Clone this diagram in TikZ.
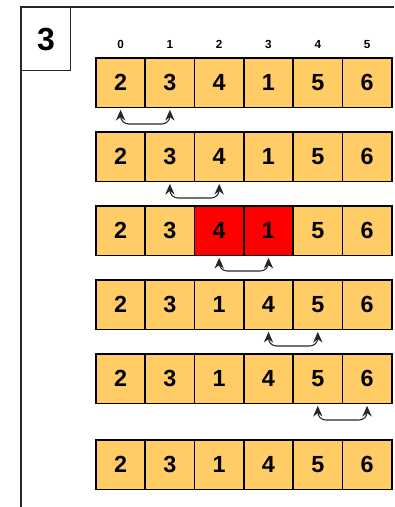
\documentclass[tikz,border=0pt]{standalone}
\usepackage{fontspec}
\setmainfont{Liberation Sans}
\usetikzlibrary{arrows.meta}
\definecolor{cellfill}{HTML}{FFCC66}
\definecolor{hotfill}{HTML}{FF0000}
\begin{document}
\begin{tikzpicture}[x=0.75pt,y=-0.75pt,
  cell/.style={draw=black,line width=1.4pt,fill=cellfill,minimum width=49.3*0.75pt,minimum height=49.5*0.75pt,inner sep=0pt,anchor=north west,font=\bfseries\fontsize{17.5pt}{20pt}\selectfont},
  hot/.style={cell,fill=hotfill},
  idx/.style={font=\bfseries\fontsize{8.8pt}{10pt}\selectfont,inner sep=0pt,anchor=base},
  swaparrow/.style={draw=black!85,line width=0.8pt,rounded corners=6pt,{Stealth[length=8pt,width=7pt]}-{Stealth[length=8pt,width=7pt]}}]
\useasboundingbox (0,0) rectangle (394,507);
% frame
\draw[line width=0.9pt,black!85] (21,507) -- (21,7) -- (394,7);
\node[draw=black!85,line width=0.9pt,minimum width=49*0.75pt,minimum height=63*0.75pt,anchor=north west,inner sep=0pt,font=\bfseries\fontsize{24pt}{28pt}\selectfont] (num) at (21,7) {3};
% rows
\foreach \r/\y/\a/\b/\c/\d/\e/\f in {1/57/2/3/4/1/5/6,2/131/2/3/4/1/5/6,4/279/2/3/1/4/5/6,5/353/2/3/1/4/5/6,6/439/2/3/1/4/5/6}{
  \foreach \v [count=\i from 0] in {\a,\b,\c,\d,\e,\f}{
    \node[cell] (r\r c\i) at (95+\i*49.3,\y) {\v};
  }
}
\node[cell] (r3c0) at (95,205) {2};
\node[cell] (r3c1) at (95+49.3,205) {3};
\node[hot]  (r3c2) at (95+2*49.3,205) {4};
\node[hot]  (r3c3) at (95+3*49.3,205) {1};
\node[cell] (r3c4) at (95+4*49.3,205) {5};
\node[cell] (r3c5) at (95+5*49.3,205) {6};
% indices
\foreach \i in {0,...,5}{
  \node[idx] (i\i) at (r1c\i.north |- 0,48.5) {\i};
}
% swap arrows
\foreach \r/\p/\q/\yy in {1/0/1/124,2/1/2/198,3/2/3/271,4/3/4/346,5/4/5/420}{
  \draw[swaparrow] ([yshift=-1.5*0.75pt]r\r c\p.south) -- (r\r c\p.south |- 0,\yy) -- (r\r c\q.south |- 0,\yy) -- ([yshift=-1.5*0.75pt]r\r c\q.south);
}
\end{tikzpicture}
\end{document}
